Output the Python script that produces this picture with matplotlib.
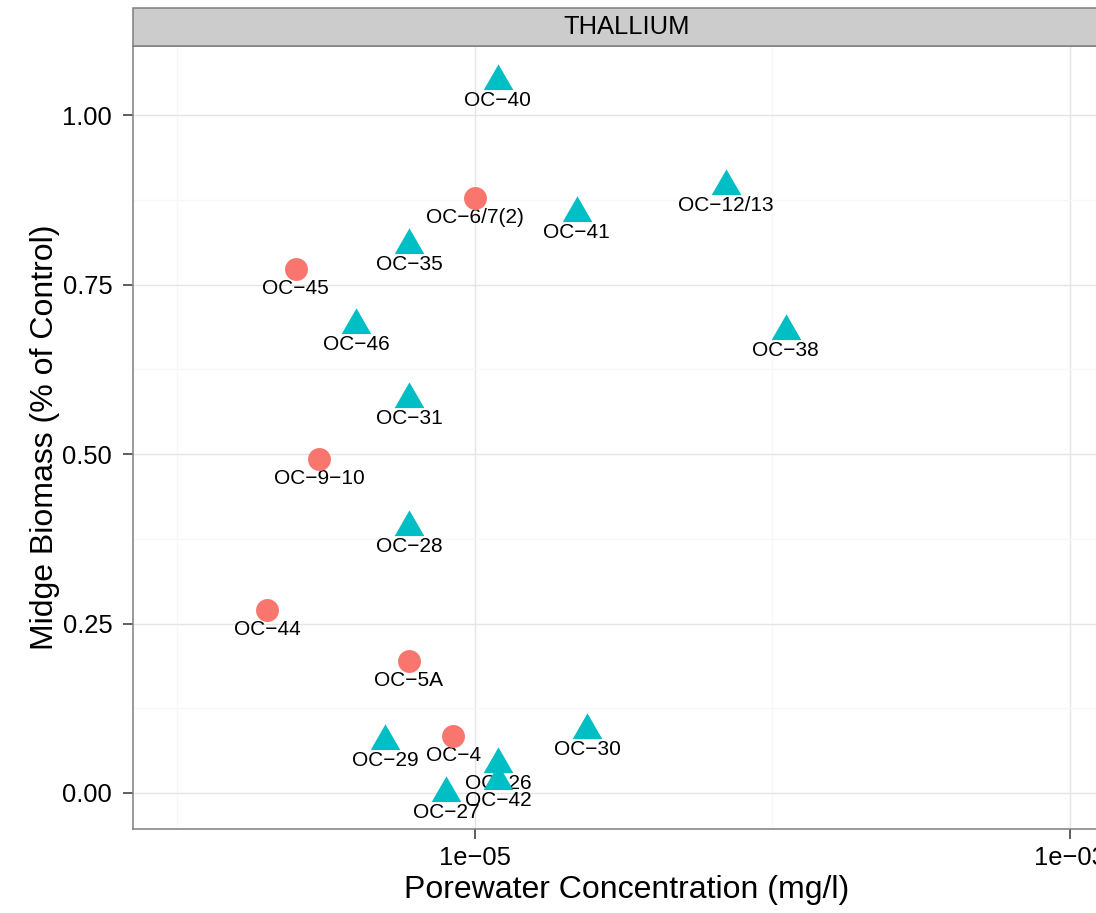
import matplotlib
matplotlib.use("Agg")
import matplotlib.pyplot as plt
from matplotlib.patches import Rectangle
from matplotlib.ticker import FixedLocator, FixedFormatter

plt.rcParams['font.family'] = ['Liberation Sans', 'DejaVu Sans']

# thallium porewater concentration vs midge biomass
sites = ["OC−40", "OC−6/7(2)", "OC−12/13", "OC−41", "OC−35", "OC−45", "OC−46",
         "OC−38", "OC−31", "OC−9−10", "OC−28", "OC−44", "OC−5A", "OC−30",
         "OC−29", "OC−4", "OC−26", "OC−42", "OC−27"]
conc = [1.195e-5, 1.0e-5, 6.98e-5, 2.20e-5, 6.0e-6, 2.50e-6, 3.99e-6,
        1.108e-4, 6.0e-6, 3.0e-6, 6.0e-6, 2.0e-6, 6.0e-6, 2.39e-5,
        5.0e-6, 8.45e-6, 1.2e-5, 1.2e-5, 8.0e-6]
biomass = [1.050, 0.878, 0.895, 0.856, 0.808, 0.773, 0.690,
           0.681, 0.581, 0.493, 0.392, 0.270, 0.195, 0.093,
           0.076, 0.0845, 0.0425, 0.017, 0.0]
group = ["B", "A", "B", "B", "B", "A", "B",
         "B", "B", "A", "B", "A", "A", "B",
         "B", "A", "B", "B", "B"]

y_ticks = [0.0, 0.25, 0.5, 0.75, 1.0]
y_labels = ["0.00", "0.25", "0.50", "0.75", "1.00"]
x_ticks = [1e-5, 1e-3]
x_labels = ["1e−05", "1e−03"]

colors = {"A": "#F8766D", "B": "#00BFC4"}
markers = {"A": "o", "B": (3, 0, 0)}
sizes = {"A": 16.5, "B": 24.7}

fig = plt.figure(figsize=(10.96, 9.13), dpi=100)
ax = fig.add_axes([133 / 1096, 84 / 913, (1121 - 133) / 1096, (829 - 46) / 913])

for s, x, y, g in zip(sites, conc, biomass, group):
    ax.plot(x, y, linestyle="none", marker=markers[g], ms=sizes[g],
            color=colors[g], markeredgewidth=0, zorder=4)
    ax.annotate(s, (x, y), xytext=(0, -18), textcoords="offset points",
                ha="center", va="baseline", fontsize=15, color="black", zorder=3)

ax.set_xscale("log")
ax.set_xlim(10 ** -6.1496, 10 ** -2.8276)
ax.set_ylim(-0.0531, 1.1018)

ax.xaxis.set_major_locator(FixedLocator(x_ticks))
ax.xaxis.set_major_formatter(FixedFormatter(x_labels))
ax.xaxis.set_minor_locator(FixedLocator([1e-6, 1e-4]))
ax.xaxis.set_minor_formatter(FixedFormatter(["", ""]))
ax.yaxis.set_major_locator(FixedLocator(y_ticks))
ax.yaxis.set_major_formatter(FixedFormatter(y_labels))
ax.yaxis.set_minor_locator(FixedLocator([0.125, 0.375, 0.625, 0.875]))

ax.grid(which="major", color="#E5E5E5", linewidth=1.0, zorder=0)
ax.grid(which="minor", color="#F7F7F7", linewidth=0.9, zorder=0)
ax.set_axisbelow(True)

ax.tick_params(which="major", length=7, width=1.1, color="#333333",
               labelsize=18.4, labelcolor="black")
ax.tick_params(axis="x", which="major", pad=5)
ax.tick_params(axis="y", which="major", pad=8)
ax.tick_params(which="minor", length=0)
for sp in ax.spines.values():
    sp.set_color("#7F7F7F")
    sp.set_linewidth(1.1)

ax.set_xlabel("Porewater Concentration (mg/l)", fontsize=23, labelpad=4)
ax.set_ylabel("Midge Biomass (% of Control)", fontsize=23, labelpad=2)

# facet strip
strip_h = 38 / 783
ax.add_patch(Rectangle((0, 1.0), 1, strip_h, transform=ax.transAxes,
                       facecolor="#CCCCCC", edgecolor="#7F7F7F", linewidth=1.1,
                       clip_on=False, zorder=5))
ax.text(0.5, 1.0 + strip_h / 2, "THALLIUM", transform=ax.transAxes,
        ha="center", va="center", fontsize=18.4, color="black", zorder=6)

fig.savefig("out.png", dpi=100)
